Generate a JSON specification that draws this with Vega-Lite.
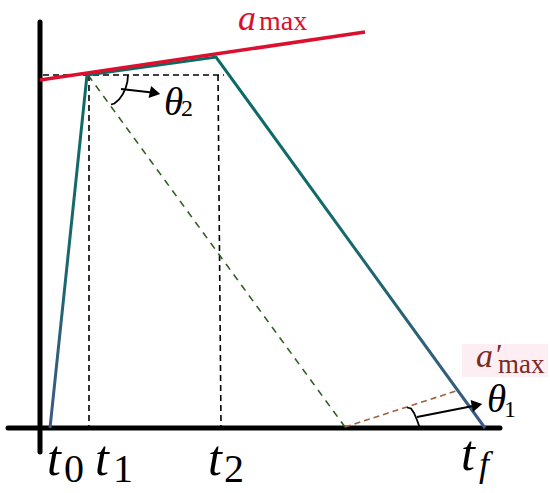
{
  "$schema": "https://vega.github.io/schema/vega-lite/v6.json",
  "width": 550,
  "height": 493,
  "autosize": "none",
  "padding": 0,
  "background": "white",
  "config": {"view": {"stroke": null}},
  "encoding": {
    "x": {"field": "x", "type": "quantitative", "scale": {"domain": [0, 550]}, "axis": null},
    "y": {"field": "y", "type": "quantitative", "scale": {"domain": [0, 493], "reverse": true}, "axis": null}
  },
  "layer": [
    {
      "data": {"values": [{"x": 462, "y": 344, "x2": 548, "y2": 377}]},
      "mark": {"type": "rect", "fill": "#fdeef4"},
      "encoding": {"x2": {"field": "x2"}, "y2": {"field": "y2"}}
    },
    {
      "data": {"values": [
        {"x": 40, "y": 22, "x2": 40, "y2": 452},
        {"x": 8, "y": 428, "x2": 500, "y2": 428}
      ]},
      "mark": {"type": "rule", "color": "black", "strokeWidth": 5, "strokeCap": "round"},
      "encoding": {"x2": {"field": "x2"}, "y2": {"field": "y2"}}
    },
    {
      "data": {"values": [
        {"x": 43, "y": 75, "x2": 224, "y2": 75},
        {"x": 89, "y": 75, "x2": 89, "y2": 426},
        {"x": 218, "y": 75, "x2": 221, "y2": 426}
      ]},
      "mark": {"type": "rule", "color": "black", "strokeWidth": 1.6, "strokeDash": [6, 4]},
      "encoding": {"x2": {"field": "x2"}, "y2": {"field": "y2"}}
    },
    {
      "data": {"values": [{"x": 88, "y": 75, "x2": 345, "y2": 427}]},
      "mark": {"type": "rule", "color": "#2f5e22", "strokeWidth": 1.6, "strokeDash": [7, 6]},
      "encoding": {"x2": {"field": "x2"}, "y2": {"field": "y2"}}
    },
    {
      "data": {"values": [{"x": 345, "y": 427, "x2": 456, "y2": 391}]},
      "mark": {"type": "rule", "color": "#a0603f", "strokeWidth": 1.6, "strokeDash": [6, 4]},
      "encoding": {"x2": {"field": "x2"}, "y2": {"field": "y2"}}
    },
    {
      "data": {"values": [
        {"o": 0, "x": 50, "y": 428},
        {"o": 1, "x": 87, "y": 75},
        {"o": 2, "x": 216, "y": 57},
        {"o": 3, "x": 485, "y": 428}
      ]},
      "mark": {
        "type": "line",
        "strokeWidth": 3,
        "strokeJoin": "miter",
        "color": {
          "gradient": "linear", "x1": 0, "y1": 0, "x2": 0, "y2": 1,
          "stops": [
            {"offset": 0, "color": "#0a6b63"},
            {"offset": 0.5, "color": "#17696c"},
            {"offset": 1, "color": "#3e5a84"}
          ]
        }
      },
      "encoding": {"order": {"field": "o", "type": "quantitative"}}
    },
    {
      "data": {"values": [{"x": 40, "y": 80, "x2": 365, "y2": 32}]},
      "mark": {"type": "rule", "color": "#dc102e", "strokeWidth": 3.5},
      "encoding": {"x2": {"field": "x2"}, "y2": {"field": "y2"}}
    },
    {
      "data": {"values": [
        {"a": "t2", "o": 0, "x": 128, "y": 75},
        {"a": "t2", "o": 1, "x": 127.4, "y": 81.6},
        {"a": "t2", "o": 2, "x": 125.7, "y": 88},
        {"a": "t2", "o": 3, "x": 122.9, "y": 94},
        {"a": "t2", "o": 4, "x": 119.1, "y": 99.4},
        {"a": "t2", "o": 5, "x": 114.4, "y": 103.5},
        {"a": "t2", "o": 6, "x": 111, "y": 104.5},
        {"a": "t1", "o": 0, "x": 407, "y": 407.5},
        {"a": "t1", "o": 1, "x": 411, "y": 408.5},
        {"a": "t1", "o": 2, "x": 414, "y": 413},
        {"a": "t1", "o": 3, "x": 417, "y": 420},
        {"a": "t1", "o": 4, "x": 419.5, "y": 427}
      ]},
      "mark": {"type": "line", "color": "black", "strokeWidth": 1.8},
      "encoding": {"detail": {"field": "a"}, "order": {"field": "o", "type": "quantitative"}}
    },
    {
      "data": {"values": [
        {"x": 121, "y": 89, "x2": 152, "y2": 92.5},
        {"x": 417, "y": 417, "x2": 473, "y2": 406}
      ]},
      "mark": {"type": "rule", "color": "black", "strokeWidth": 1.8},
      "encoding": {"x2": {"field": "x2"}, "y2": {"field": "y2"}}
    },
    {
      "data": {"values": [{"x": 155, "y": 93}]},
      "mark": {"type": "point", "shape": "triangle-right", "filled": true, "color": "black", "opacity": 1, "size": 150, "angle": 12}
    },
    {
      "data": {"values": [{"x": 477, "y": 405}]},
      "mark": {"type": "point", "shape": "triangle-right", "filled": true, "color": "black", "opacity": 1, "size": 150, "angle": -11}
    },
    {
      "data": {"values": [
        {"x": 47, "y": 475, "text": "t"},
        {"x": 95, "y": 475, "text": "t"},
        {"x": 208, "y": 475, "text": "t"},
        {"x": 461, "y": 470, "text": "t"}
      ]},
      "mark": {"type": "text", "font": "Liberation Serif", "fontStyle": "italic", "fontSize": 50, "align": "left", "baseline": "alphabetic", "color": "black"},
      "encoding": {"text": {"field": "text"}}
    },
    {
      "data": {"values": [
        {"x": 64, "y": 482, "text": "0"},
        {"x": 113, "y": 482, "text": "1"},
        {"x": 224, "y": 482, "text": "2"}
      ]},
      "mark": {"type": "text", "font": "Liberation Serif", "fontSize": 40, "align": "left", "baseline": "alphabetic", "color": "black"},
      "encoding": {"text": {"field": "text"}}
    },
    {
      "data": {"values": [{"x": 479, "y": 476, "text": "f"}]},
      "mark": {"type": "text", "font": "Liberation Serif", "fontStyle": "italic", "fontSize": 36, "align": "left", "baseline": "alphabetic", "color": "black"},
      "encoding": {"text": {"field": "text"}}
    },
    {
      "data": {"values": [
        {"x": 164, "y": 115, "text": "θ"},
        {"x": 487, "y": 412, "text": "θ"}
      ]},
      "mark": {"type": "text", "font": "Liberation Serif", "fontStyle": "italic", "fontSize": 39, "align": "left", "baseline": "alphabetic", "color": "black"},
      "encoding": {"text": {"field": "text"}}
    },
    {
      "data": {"values": [
        {"x": 181, "y": 116, "text": "2"},
        {"x": 504, "y": 417, "text": "1"}
      ]},
      "mark": {"type": "text", "font": "Liberation Serif", "fontSize": 24, "align": "left", "baseline": "alphabetic", "color": "black"},
      "encoding": {"text": {"field": "text"}}
    },
    {
      "data": {"values": [{"x": 238, "y": 19, "text": "a"}]},
      "mark": {"type": "text", "font": "Liberation Serif", "fontStyle": "italic", "fontSize": 36, "align": "left", "baseline": "middle", "color": "#dc102e"},
      "encoding": {"text": {"field": "text"}}
    },
    {
      "data": {"values": [{"x": 259, "y": 30, "text": "max"}]},
      "mark": {"type": "text", "font": "Liberation Serif", "fontSize": 28, "align": "left", "baseline": "alphabetic", "color": "#dc102e"},
      "encoding": {"text": {"field": "text"}}
    },
    {
      "data": {"values": [{"x": 476, "y": 367, "text": "a"}]},
      "mark": {"type": "text", "font": "Liberation Serif", "fontStyle": "italic", "fontSize": 34, "align": "left", "baseline": "alphabetic", "color": "#7b2a1e"},
      "encoding": {"text": {"field": "text"}}
    },
    {
      "data": {"values": [{"x": 496, "y": 364, "text": "′"}]},
      "mark": {"type": "text", "font": "Liberation Serif", "fontSize": 30, "align": "left", "baseline": "alphabetic", "color": "#7b2a1e"},
      "encoding": {"text": {"field": "text"}}
    },
    {
      "data": {"values": [{"x": 498, "y": 373, "text": "max"}]},
      "mark": {"type": "text", "font": "Liberation Serif", "fontSize": 27, "align": "left", "baseline": "alphabetic", "color": "#7b2a1e"},
      "encoding": {"text": {"field": "text"}}
    }
  ]
}
